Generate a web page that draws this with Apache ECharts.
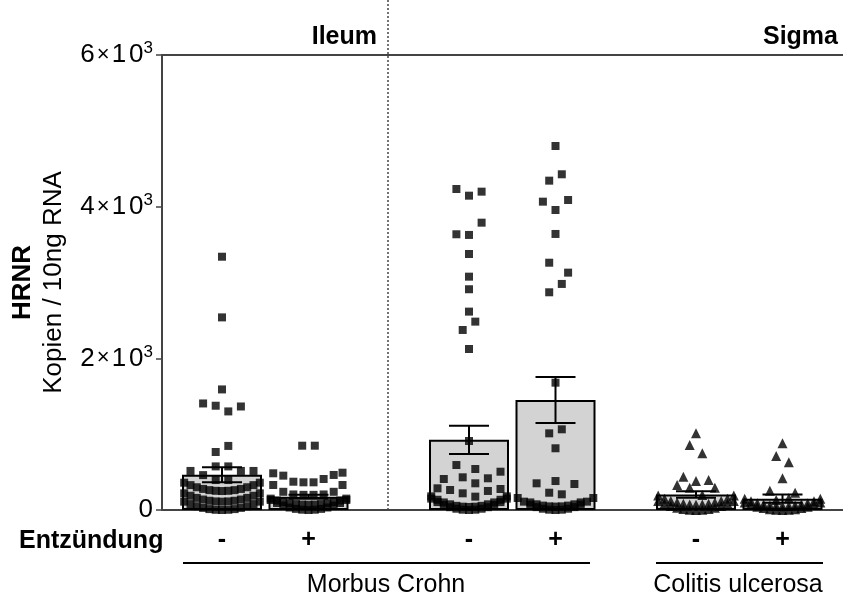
<!DOCTYPE html>
<html><head><meta charset="utf-8">
<script src="https://cdn.jsdelivr.net/npm/echarts@6/dist/echarts.min.js"></script>
<style>html,body{margin:0;padding:0;background:#fff}#c{width:843px;height:598px}</style>
</head><body><div id="c"></div>
<script>
// ---------- data ----------
const yTicks = [0, 2000, 4000, 6000];
const conditionLabels = ['-', '+'];
const regionLabels = ['Ileum', 'Sigma'];
const diseaseLabels = ['Morbus Crohn', 'Colitis ulcerosa'];
const rowLabel = 'Entzündung';
const yTitle = ['HRNR', 'Kopien / 10ng RNA'];
// bar heights (mean) and SEM, order: MC Ileum -, MC Ileum +, MC Sigma -, MC Sigma +, CU Sigma -, CU Sigma +
const means = [465, 175, 925, 1450, 205, 150];
const sems = [100, 25, 187, 303, 42, 55];
// individual samples: [swarm column offset, value]
const ptsIleumMinus = [
  [0,3340],[0,2540],[0,1590],[-1.5,1405],[-0.5,1375],[0.5,1300],[1.5,1365],[-0.5,765],[0.5,845],
  [-0.5,575],[0.5,575],[-2.5,515],[-1.5,460],[1.5,515],[2.5,515],[-0.5,395],[0.5,395],
  [0,250],[-0.5,253],[0.5,253],[-1,262],[1,262],[-1.5,278],[1.5,278],[-2,300],[2,300],[-2.5,328],[2.5,328],[-3,360],[3,360],
  [0,110],[-0.5,113],[0.5,113],[-1,122],[1,122],[-1.5,138],[1.5,138],[-2,160],[2,160],[-2.5,188],[2.5,188],[-3,220],[3,220],
  [0,0],[-0.5,3],[0.5,3],[-1,12],[1,12],[-1.5,28],[1.5,28],[-2,50],[2,50],[-2.5,78],[2.5,78],[-3,110],[3,110]
];
const ptsIleumPlus = [
  [-0.5,848],[0.5,848],
  [-2.8,484],[-2,453],[-1.2,373],[-0.4,365],[0.4,365],[1.2,409],[2,462],[2.7,492],
  [-2.8,330],[2.7,330],[-2,240],[-1.2,205],[-0.4,200],[0.4,200],[1.2,205],[2,240],
  [0,70],[-0.5,72],[0.5,72],[-1,78],[1,78],[-1.5,90],[1.5,90],[-2,105],[2,105],[-2.5,125],[2.5,125],[-3,150],[3,150],
  [0,0],[-0.5,4],[0.5,4],[-1,15],[1,15],[-1.5,33],[1.5,33],[-2,58],[2,58],[-2.5,92],[2.5,92],[-3,132],[3,132]
];
const ptsSigmaMinus = [
  [-1,4233],[0,4145],[1,4198],[1,3789],[-1,3636],[0,3627],[0,3376],[0,3077],[0,2911],[0,2616],[0.5,2484],[-0.5,2374],[0,2123],
  [0,910],
  [-1,593],[0.5,541],[-0.5,431],[-2,409],[2.5,505],[1.5,418],[0.5,352],[-1.5,264],[-0.5,220],[0.5,176],[1.5,251],[2.5,277],[-2.5,286],
  [0,40],[-0.5,44],[0.5,44],[-1,55],[1,55],[-1.5,75],[1.5,75],[-2,100],[2,100],[-2.5,135],[2.5,135],[-3,180],[3,180],
  [0,0],[-0.5,4],[0.5,4],[-1,17],[1,17],[-1.5,37],[1.5,37],[-2,67],[2,67],[-2.5,104],[2.5,104],[-3,150],[3,150]
];
const ptsSigmaPlus = [
  [0,4800],[0.5,4427],[-0.5,4343],[-1,4066],[1,4088],[0,3956],[0,3640],[-0.5,3261],[1,3130],[0.5,2981],[-0.5,2871],
  [0,1679],[-0.5,1011],[0.5,1064],[0,814],[-1.5,352],[0,382],[1.5,343],[-0.5,228],[0.5,207],
  [0,45],[-0.5,48],[0.5,48],[-1,58],[1,58],[-1.5,75],[1.5,75],[-2,100],[2,100],
  [0,0],[-0.5,4],[0.5,4],[-1,17],[1,17],[-1.5,38],[1.5,38],[-2,70],[2,70],[-2.5,110],[2.5,110],[-3,158],[3,158]
];
const ptsColitisMinus = [
  [0,1011],[-0.5,857],[0.5,748],[-1,439],[0,382],[1,396],[-1.5,330],[-0.5,294],[1.5,294],[0.5,198],
  [0,70],[-0.5,73],[0.5,73],[-1,82],[1,82],[-1.5,98],[1.5,98],[-2,120],[2,120],[-2.5,150],[2.5,150],[-3,190],[3,190],
  [0,0],[-0.5,3],[0.5,3],[-1,13],[1,13],[-1.5,30],[1.5,30],[-2,53],[2,53],[-2.5,83],[2.5,83],[-3,120],[3,120]
];
const ptsColitisPlus = [
  [0,879],[-0.5,712],[0.5,629],[0,418],[-1,255],[1,228],[-0.5,132],[0.5,154],
  [0,50],[-0.5,53],[0.5,53],[-1,60],[1,60],[-1.5,73],[1.5,73],[-2,90],[2,90],[-2.5,115],[2.5,115],[-3,150],[3,150],
  [0,0],[-0.5,3],[0.5,3],[-1,11],[1,11],[-1.5,25],[1.5,25],[-2,44],[2,44],[-2.5,70],[2.5,70],[-3,100],[3,100]
];

// ---------- layout ----------
const FONT = '"Liberation Sans", Arial, Helvetica, sans-serif';
const AXIS = '#444';
const panels = [
  { left: 178.75, pts: [ptsIleumMinus, ptsIleumPlus], symbol: 'rect', size: 8 },
  { left: 425.75, pts: [ptsSigmaMinus, ptsSigmaPlus], symbol: 'rect', size: 8 },
  { left: 652.75, pts: [ptsColitisMinus, ptsColitisPlus], symbol: 'triangle', size: 10 }
];
const PANEL_W = 173;         // 2 slots of 86.5 px
const COL = 12.6 / 86.5;     // swarm column width in slot units
const TOP = 55, BOTTOM = 88;

const grid = [{ left: 162, right: 0, top: TOP, bottom: BOTTOM }];
const xAxis = [
  { gridIndex: 0, type: 'value', min: 0, max: 1, position: 'bottom',
    axisLine: { show: true, onZero: false, lineStyle: { color: AXIS, width: 2 } },
    axisTick: { show: false }, axisLabel: { show: false }, splitLine: { show: false } },
  { gridIndex: 0, type: 'value', min: 0, max: 1, position: 'top',
    axisLine: { show: true, onZero: false, lineStyle: { color: AXIS, width: 2 } },
    axisTick: { show: false }, axisLabel: { show: false }, splitLine: { show: false } }
];
const yAxis = [{
  gridIndex: 0, type: 'value', min: yTicks[0], max: yTicks[yTicks.length - 1], interval: yTicks[1] - yTicks[0],
  axisLine: { show: true, lineStyle: { color: AXIS, width: 2 } },
  axisTick: { show: true, length: 6, lineStyle: { color: AXIS, width: 1.5 } },
  splitLine: { show: false },
  axisLabel: {
    margin: 9, color: '#000',
    formatter: v => v === 0 ? '{m|0}'
      : '{m|' + (v / 1000) + '}{x|×}{m|1}{z|0}{s|3}',
    rich: {
      m: { fontSize: 26, fontFamily: FONT, color: '#000', lineHeight: 30 },
      z: { fontSize: 26, fontFamily: FONT, color: '#000', lineHeight: 30, padding: [0, 0, 0, 3] },
      x: { fontSize: 22, fontFamily: FONT, color: '#000', lineHeight: 30, padding: [0, 2, 0, 2] },
      s: { fontSize: 17, fontFamily: FONT, color: '#000', lineHeight: 30, verticalAlign: 'top' }
    }
  },
  name: '{b|' + yTitle[0] + '}\n{n|' + yTitle[1] + '}',
  nameLocation: 'middle', nameRotate: 90, nameGap: 93,
  nameTextStyle: {
    rich: {
      b: { fontSize: 26, fontWeight: 'bold', fontFamily: FONT, color: '#000', lineHeight: 31 },
      n: { fontSize: 26, fontFamily: FONT, color: '#000', lineHeight: 31 }
    }
  }
}];
const series = [];

panels.forEach((p, i) => {
  const g = i + 1;
  grid.push({ left: p.left, width: PANEL_W, top: TOP, bottom: BOTTOM });
  const catIdx = xAxis.length;
  xAxis.push({
    gridIndex: g, type: 'category', data: conditionLabels, position: 'bottom',
    axisLine: { show: false }, axisTick: { show: false },
    axisLabel: { fontSize: 25, fontWeight: 'bold', fontFamily: FONT, color: '#000', margin: 18 }
  });
  const valIdx = xAxis.length;
  xAxis.push({ gridIndex: g, type: 'value', min: 0, max: 2, show: false, splitLine: { show: false } });
  const yIdx = yAxis.length;
  yAxis.push({ gridIndex: g, type: 'value', min: 0, max: 6000, show: false, splitLine: { show: false } });

  series.push({
    type: 'bar', xAxisIndex: catIdx, yAxisIndex: yIdx, barWidth: 80, z: 2,
    data: [means[2 * i], means[2 * i + 1]],
    itemStyle: { color: '#d3d3d3', borderColor: '#000', borderWidth: 2 }
  });
  series.push({
    type: 'custom', xAxisIndex: catIdx, yAxisIndex: yIdx, z: 3,
    data: [[0, means[2 * i], sems[2 * i]], [1, means[2 * i + 1], sems[2 * i + 1]]],
    encode: { x: 0, y: 1 },
    renderItem: (params, api) => {
      const c = api.value(0), m = api.value(1), s = api.value(2);
      const t = api.coord([c, m + s]), b = api.coord([c, m - s]);
      const h = 20, st = { stroke: '#000', lineWidth: 2 };
      return { type: 'group', children: [
        { type: 'line', shape: { x1: t[0], y1: t[1], x2: b[0], y2: b[1] }, style: st },
        { type: 'line', shape: { x1: t[0] - h, y1: t[1], x2: t[0] + h, y2: t[1] }, style: st },
        { type: 'line', shape: { x1: b[0] - h, y1: b[1], x2: b[0] + h, y2: b[1] }, style: st }
      ] };
    }
  });
  p.pts.forEach((pts, s) => {
    series.push({
      type: 'scatter', xAxisIndex: valIdx, yAxisIndex: yIdx, z: 4,
      symbol: p.symbol, symbolSize: p.size,
      itemStyle: { color: '#000' },
      data: pts.map(([o, v]) => [s + 0.5 + o * COL, v])
    });
  });
});

const txt = (x, y, text, align, bold) => ({
  type: 'text', x, y, z: 10,
  style: { text, fontSize: 25, fontWeight: bold ? 'bold' : 'normal', fontFamily: FONT,
           fill: '#000', align, verticalAlign: 'middle' }
});
const graphic = [
  { type: 'line', z: 1, shape: { x1: 388, y1: 0, x2: 388, y2: 510 },
    style: { stroke: AXIS, lineWidth: 1.5, lineDash: [2, 2] } },
  txt(377, 37, regionLabels[0], 'right', true),
  txt(838, 37, regionLabels[1], 'right', true),
  txt(19, 541, rowLabel, 'left', true),
  { type: 'line', shape: { x1: 183, y1: 563, x2: 590, y2: 563 }, style: { stroke: '#000', lineWidth: 2 } },
  { type: 'line', shape: { x1: 656, y1: 563, x2: 823, y2: 563 }, style: { stroke: '#000', lineWidth: 2 } },
  txt(386, 585, diseaseLabels[0], 'center', false),
  txt(738, 585, diseaseLabels[1], 'center', false)
];

const chart = echarts.init(document.getElementById('c'), null, { renderer: 'canvas' });
chart.setOption({ animation: false, backgroundColor: '#fff', grid, xAxis, yAxis, series, graphic });
</script></body></html>
